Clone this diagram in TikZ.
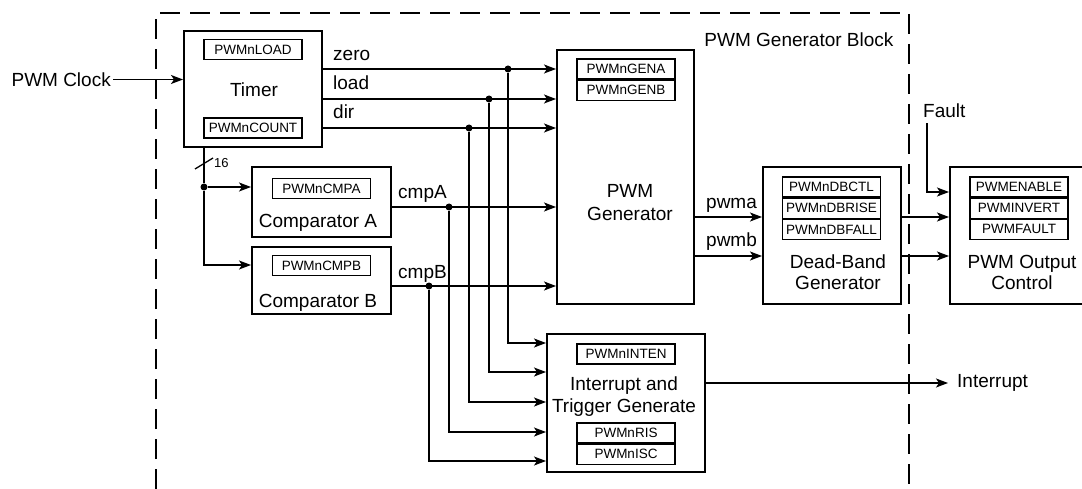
\documentclass[tikz,border=0pt]{standalone}
\usepackage{fontspec}
\setmainfont{Liberation Sans}
\usetikzlibrary{arrows.meta,positioning}
\begin{document}
\begin{tikzpicture}[x=1pt,y=-1pt,
  every node/.style={font=\fontsize{19}{22}\selectfont},
  blk/.style={draw,line width=2pt,inner sep=0pt},
  reg/.style={draw,line width=1.2pt,minimum width=98pt,minimum height=20pt,inner sep=0pt,font=\fontsize{13.5}{14}\selectfont},
  sig/.style={anchor=base west,inner sep=0pt},
  wire/.style={line width=1.3pt},
  arr/.style={wire,-{Stealth[length=12pt,width=9pt,inset=3pt]}},
  jn/.style={circle,fill,inner sep=0pt,minimum size=7pt}]
\useasboundingbox (0,0) rectangle (1082,489);
% generator block frame
\draw[line width=1.3pt,dash pattern=on 20pt off 10pt] (156,489) -- (156,13) -- (909,13) -- (909,489);
\node[anchor=east] (blockname) at (897,40) {PWM Generator Block};
% timer
\node[blk,minimum width=138pt,minimum height=116pt] (timer) at (253,89) {};
\node[reg] (rload) at (253,49.5) {PWMnLOAD};
\node[anchor=base] (timerlbl) at (254,97) {Timer};
\node[reg] (rcount) at (253,128) {PWMnCOUNT};
\node[anchor=east,inner sep=2pt] (clk) at (113,79.5) {PWM Clock};
\draw[arr] (clk.east) -- (clk.east -| timer.west);
% comparators
\node[blk,minimum width=139pt,minimum height=70pt] (cmpa) at (321.5,202) {};
\node[reg] (rcmpa) at (321.5,188.5) {PWMnCMPA};
\node[anchor=base] (cmpalbl) at (318,228) {Comparator A};
\node[blk,minimum width=139pt,minimum height=67pt] (cmpb) at (321.5,280.5) {};
\node[reg] (rcmpb) at (321.5,265.5) {PWMnCMPB};
\node[anchor=base] (cmpblbl) at (318,307) {Comparator B};
% 16 bit count bus
\node[jn] (jbus) at (204,187) {};
\draw[wire] (timer.south -| jbus) -- (jbus);
\draw[wire] (195,169) -- (213,158);
\node[anchor=west,inner sep=0pt,font=\fontsize{13}{14}\selectfont] (buswidth) at (214,163) {16};
\draw[arr] (jbus) -- (cmpa.west |- jbus);
\draw[arr] (jbus) |- ([yshift=-19pt]cmpb.north west);
% pwm generator
\node[blk,minimum width=137pt,minimum height=254pt] (gen) at (625.5,177) {};
\node[reg] (gena) at (626,69) {PWMnGENA};
\node[reg,below=0pt of gena] (genb) {PWMnGENB};
\node[align=center,font=\fontsize{19}{23}\selectfont] (genlbl) at (630,203) {PWM\\Generator};
% timer and comparator events
\node[sig] (zero) at (333,61) {zero};
\node[sig] (load) at (333,90) {load};
\node[sig] (dir) at (333,119) {dir};
\node[sig] (cmpAlbl) at (398,199) {cmpA};
\node[sig] (cmpBlbl) at (398,278) {cmpB};
\node[jn] (jzero) at (508,69) {};
\node[jn] (jload) at (489,99) {};
\node[jn] (jdir) at (469,128) {};
\node[jn] (jcmpa) at (449,207) {};
\node[jn] (jcmpb) at (429,286) {};
\draw[arr] (timer.east |- jzero) -- (gen.west |- jzero);
\draw[arr] (timer.east |- jload) -- (gen.west |- jload);
\draw[arr] (timer.east |- jdir) -- (gen.west |- jdir);
\draw[arr] (cmpa.east |- jcmpa) -- (gen.west |- jcmpa);
\draw[arr] (cmpb.east |- jcmpb) -- (gen.west |- jcmpb);
% interrupt and trigger
\node[blk,minimum width=158pt,minimum height=138pt] (irq) at (626,403) {};
\node[reg] (rinten) at (626,354) {PWMnINTEN};
\node[align=center] (irqlbl) at (624,397) {Interrupt and\\Trigger Generate};
\node[reg] (rris) at (626,433) {PWMnRIS};
\node[reg,below=0pt of rris] (risc) {PWMnISC};
\foreach \j/\d in {jzero/10pt,jload/39pt,jdir/69pt,jcmpa/99pt,jcmpb/128pt}
  \draw[arr] (\j) |- ([yshift=-\d]irq.north west);
\node[anchor=west,inner xsep=9pt,inner ysep=0pt] (intout) at (948,383) {Interrupt};
\draw[arr] (irq.east |- intout) -- (intout.west);
% dead-band
\node[blk,minimum width=138pt,minimum height=137pt] (db) at (832,235.5) {};
\node[reg] (rdbctl) at (831.5,187) {PWMnDBCTL};
\node[reg,below=0pt of rdbctl] (rdbrise) {PWMnDBRISE};
\node[reg,below=0pt of rdbrise] (rdbfall) {PWMnDBFALL};
\node[align=center,font=\fontsize{19}{21}\selectfont] (dblbl) at (838,272) {Dead-Band\\Generator};
\node[sig] (pwma) at (706,209) {pwma};
\node[sig] (pwmb) at (706,247) {pwmb};
\draw[arr] (gen.east |- 0,217) -- (db.west |- 0,217);
\draw[arr] (gen.east |- 0,256) -- (db.west |- 0,256);
% output control
\node[blk,minimum width=138pt,minimum height=137pt] (ctrl) at (1019,235.5) {};
\node[reg] (renable) at (1019,187) {PWMENABLE};
\node[reg,below=0pt of renable] (rinvert) {PWMINVERT};
\node[reg,below=0pt of rinvert] (rfault) {PWMFAULT};
\node[align=center,font=\fontsize{19}{21}\selectfont] (ctrllbl) at (1022,272) {PWM Output\\Control};
\draw[arr] (db.east |- 0,217) -- (ctrl.west |- 0,217);
\draw[arr] (db.east |- 0,256) -- (ctrl.west |- 0,256);
\node[anchor=base west,inner sep=0pt] (fault) at (923,118) {Fault};
\draw[arr] ([xshift=4pt,yshift=-5pt]fault.south west) |- (ctrl.west |- 0,192);
\end{tikzpicture}
\end{document}
